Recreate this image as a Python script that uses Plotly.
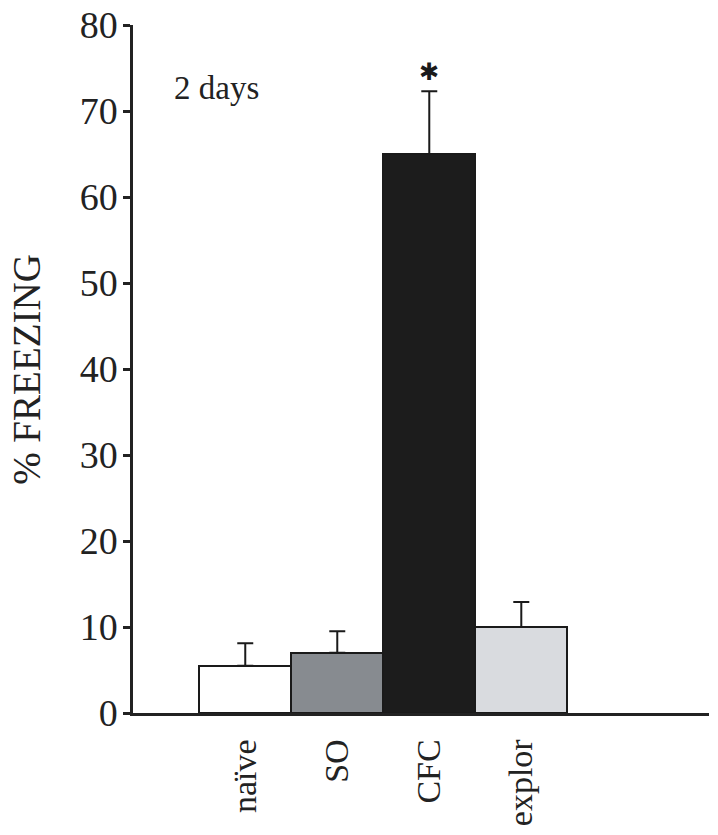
import plotly.graph_objects as go

categories = ["naïve", "SO", "CFC", "explor"]
freezing = [5.5, 7.0, 65.0, 10.0]
sem = [2.6, 2.5, 7.3, 2.9]
bar_colors = ["#ffffff", "#878b90", "#1c1c1c", "#d9dbdf"]
y_ticks = [0, 10, 20, 30, 40, 50, 60, 70, 80]

x_pos = list(range(len(categories)))

fig = go.Figure()
fig.add_trace(go.Bar(
    x=x_pos, y=freezing, width=1.0,
    marker=dict(color=bar_colors, line=dict(color="#1a1a1a", width=2)),
    error_y=dict(type="data", symmetric=False, array=sem,
                 arrayminus=[0] * len(sem),
                 color="#1a1a1a", thickness=2, width=8),
    showlegend=False,
))

font_family = "Liberation Serif, Times New Roman, serif"

fig.update_layout(
    width=718, height=835,
    margin=dict(l=133, r=9, t=25, b=122, autoexpand=False),
    paper_bgcolor="white", plot_bgcolor="white",
    font=dict(family=font_family, color="#222222"),
    bargap=0,
    xaxis=dict(
        range=[-1.22, 5.04],
        tickmode="array", tickvals=x_pos, ticktext=categories,
        tickangle=-90, tickfont=dict(size=34, family=font_family, color="#222222"),
        showline=True, linecolor="#222222", linewidth=2.5,
        ticks="", showgrid=False, zeroline=False,
        ticklabelstandoff=10, automargin=False, ticklabeloverflow="allow",
    ),
    yaxis=dict(
        range=[0, 80],
        tickmode="array", tickvals=y_ticks,
        tickfont=dict(size=38, family=font_family, color="#222222"),
        showline=True, linecolor="#222222", linewidth=2.5,
        ticks="outside", ticklen=7, tickwidth=2.5, tickcolor="#222222",
        showgrid=False, zeroline=False,
        ticklabelstandoff=-2, automargin=False, ticklabeloverflow="allow",
    ),
)

fig.add_annotation(
    text="% FREEZING", textangle=-90,
    xref="paper", yref="paper", x=-0.186, y=0.5,
    showarrow=False, font=dict(size=39, family=font_family, color="#222222"),
    xanchor="center", yanchor="middle",
)
fig.add_annotation(
    text="2 days", xref="x", yref="y", x=-0.8, y=72.7,
    showarrow=False, xanchor="left", yanchor="middle",
    font=dict(size=33, family=font_family, color="#222222"),
)
fig.add_annotation(
    text="✱", xref="x", yref="y", x=x_pos[2], y=freezing[2] + sem[2],
    yshift=19, showarrow=False, xanchor="center", yanchor="middle",
    font=dict(size=24, family="DejaVu Sans", color="#1a1a1a"),
)

fig.write_html("out.html", config={"displayModeBar": False},
               post_script="document.body.style.margin='0';")
